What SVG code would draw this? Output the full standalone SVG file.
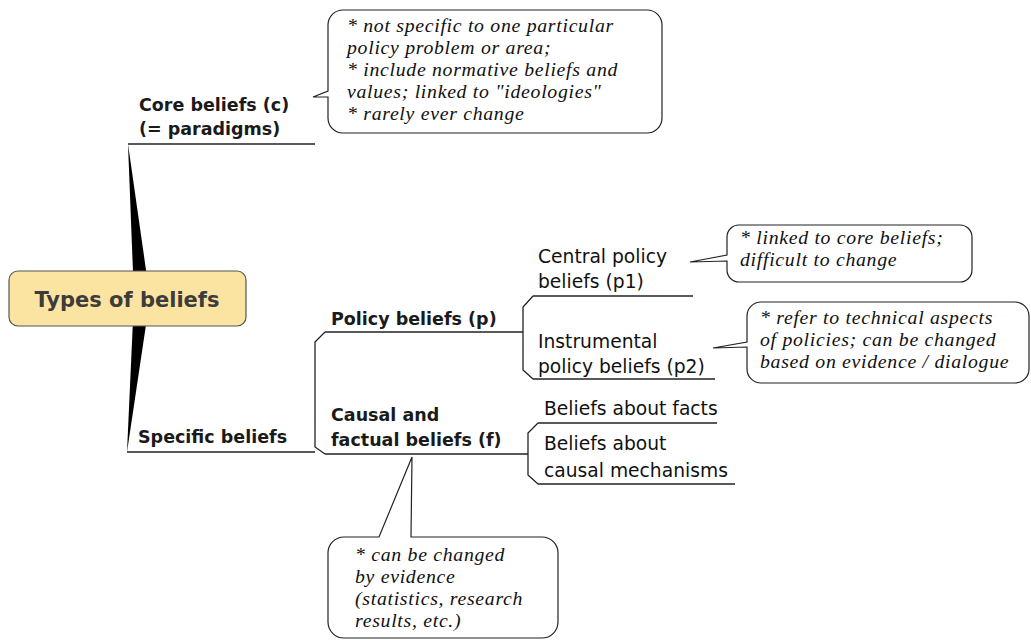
<svg xmlns="http://www.w3.org/2000/svg" width="1031" height="640" viewBox="0 0 1031 640">
<style>
.ln{fill:none;stroke:#222;stroke-width:1.3;stroke-linejoin:miter}
.co{fill:#fff;stroke:#222;stroke-width:1.2;stroke-linejoin:miter}
.lb{font-family:"DejaVu Sans",Verdana,sans-serif;font-size:18.7px;fill:#111}
.bl{font-family:"DejaVu Sans",Verdana,sans-serif;font-size:17.5px;font-weight:bold;fill:#1a1a1a}
.nt{font-family:"Liberation Serif","Times New Roman",serif;font-size:19.8px;letter-spacing:0.7px;font-style:italic;fill:#111}
.rt{font-family:"DejaVu Sans",Verdana,sans-serif;font-size:21px;font-weight:bold;fill:#3c3c3c}
</style>
<rect width="1031" height="640" fill="#fff"/>
<g id="connectors">
<polygon points="128,144 134,298 150,298" fill="#000"/>
<polygon points="127,452 134,298 150,298" fill="#000"/>
<path class="ln" d="M128,144 H315"/>
<path class="ln" d="M127,452 H315"/>
<path class="ln" d="M325,332 L315,342 V447 L325,454"/>
<path class="ln" d="M325,332 H523"/>
<path class="ln" d="M325,454 H528"/>
<path class="ln" d="M533,296 L523,307 V370 L533,379"/>
<path class="ln" d="M533,296 H693"/>
<path class="ln" d="M533,379 H715"/>
<path class="ln" d="M538,423 L528,433 V475 L538,484"/>
<path class="ln" d="M538,423 H717"/>
<path class="ln" d="M538,484 H735"/>
</g>
<g id="root">
<rect x="9" y="271" width="237" height="55" rx="9" fill="#fbe3a1" stroke="#555" stroke-width="1.2"/>
<text class="rt" x="127" y="307" text-anchor="middle">Types of beliefs</text>
</g>
<g id="core">
<text class="bl" x="139" y="111">Core beliefs (c)<tspan x="139" y="135">(= paradigms)</tspan></text>
</g>
<g id="core-note">
<path class="co" d="M343,10 H647 A15,15 0 0 1 662,25 V118 A15,15 0 0 1 647,133 H343 A15,15 0 0 1 328,118 V97 L313,97 L328,91 V25 A15,15 0 0 1 343,10 Z"/>
<text class="nt" x="347" y="32">* not specific to one particular<tspan x="347" y="54">policy problem or area;</tspan><tspan x="347" y="76">* include normative beliefs and</tspan><tspan x="347" y="98">values; linked to "ideologies"</tspan><tspan x="347" y="120">* rarely ever change</tspan></text>
</g>
<g id="specific">
<text class="bl" x="138" y="443">Specific beliefs</text>
</g>
<g id="policy">
<text class="bl" x="331" y="325">Policy beliefs (p)</text>
</g>
<g id="central">
<text class="lb" x="538" y="263">Central policy<tspan x="538" y="288">beliefs (p1)</tspan></text>
</g>
<g id="central-note">
<path class="co" d="M739,225 H960 A12,12 0 0 1 972,237 V270 A12,12 0 0 1 960,282 H739 A12,12 0 0 1 727,270 V261 L690,262 L727,255 V237 A12,12 0 0 1 739,225 Z"/>
<text class="nt" x="740" y="244">* linked to core beliefs;<tspan x="740" y="266">difficult to change</tspan></text>
</g>
<g id="instrumental">
<text class="lb" x="538" y="348">Instrumental<tspan x="538" y="373">policy beliefs (p2)</tspan></text>
</g>
<g id="instrumental-note">
<path class="co" d="M761,302 H1015 A14,14 0 0 1 1029,316 V369 A14,14 0 0 1 1015,383 H761 A14,14 0 0 1 747,369 V347 L713,348 L747,342 V316 A14,14 0 0 1 761,302 Z"/>
<text class="nt" x="760" y="324">* refer to technical aspects<tspan x="760" y="346">of policies; can be changed</tspan><tspan x="760" y="368">based on evidence / dialogue</tspan></text>
</g>
<g id="causal">
<text class="bl" x="331" y="421">Causal and<tspan x="331" y="446">factual beliefs (f)</tspan></text>
</g>
<g id="causal-note">
<path class="co" d="M344,537 H379 L412,457 L411,537 H542 A16,16 0 0 1 558,553 V622 A16,16 0 0 1 542,638 H344 A16,16 0 0 1 328,622 V553 A16,16 0 0 1 344,537 Z"/>
<text class="nt" x="355" y="561">* can be changed<tspan x="355" y="583">by evidence</tspan><tspan x="355" y="605">(statistics, research</tspan><tspan x="355" y="627">results, etc.)</tspan></text>
</g>
<g id="facts">
<text class="lb" x="544" y="415">Beliefs about facts</text>
</g>
<g id="mechanisms">
<text class="lb" x="544" y="450">Beliefs about<tspan x="544" y="477">causal mechanisms</tspan></text>
</g>
</svg>
